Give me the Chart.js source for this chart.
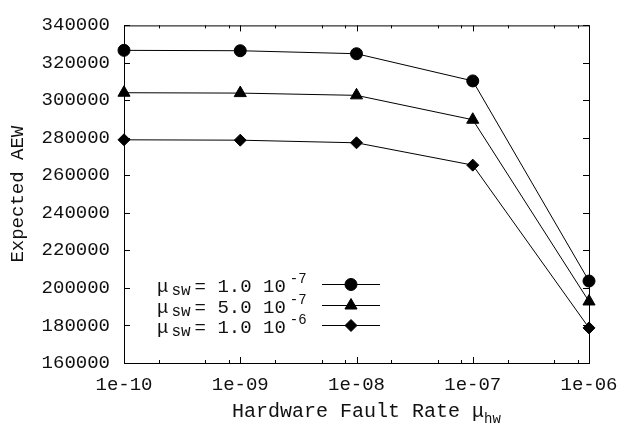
<!DOCTYPE html>
<html>
<head>
<meta charset="utf-8">
<script src="https://cdn.jsdelivr.net/npm/chart.js@4.4.1/dist/chart.umd.min.js"></script>
<style>
  html, body { margin: 0; padding: 0; background: #fff; }
  #wrap { width: 630px; height: 428px; }
</style>
</head>
<body>
<div id="wrap"><canvas id="aewChart" width="630" height="428"></canvas></div>
<script>
// hardware fault rates (x, log scale)
const faultRates = [1e-10, 1e-9, 1e-8, 1e-7, 1e-6];
const xTickLabels = ["1e-10", "1e-09", "1e-08", "1e-07", "1e-06"];
const xMinorSteps = [2, 5, 8];

// expected AEW for the three software fault rates
const aewSw1e7 = [326700, 326500, 324900, 310400, 203700];
const aewSw5e7 = [304100, 303900, 302700, 289700, 192800];
const aewSw1e6 = [279000, 278800, 277400, 265500, 178700];

const legendExp = ["-7", "-7", "-6"];
const legendMant = ["1.0", "5.0", "1.0"];

const FONT = "'Liberation Mono', 'DejaVu Sans Mono', monospace";
const INK = "#111";

function toPoints(ys) {
  return ys.map((y, i) => ({ x: faultRates[i], y: y }));
}

// draws text pieces one after another (for sub/superscripts)
function drawRich(ctx, x, y, parts) {
  parts.forEach((p) => {
    ctx.font = p.size + "px " + FONT;
    ctx.fillText(p.text, x, y + (p.dy || 0));
    x += ctx.measureText(p.text).width + (p.gap || 0);
  });
  return x;
}

function richWidth(ctx, parts) {
  let w = 0;
  parts.forEach((p) => {
    ctx.font = p.size + "px " + FONT;
    w += ctx.measureText(p.text).width + (p.gap || 0);
  });
  return w;
}

const frameAndTicks = {
  id: "frameAndTicks",
  beforeDatasetsDraw(chart) {
    const { ctx, chartArea: a, scales } = chart;
    ctx.save();
    ctx.strokeStyle = "#000";
    ctx.lineWidth = 1;
    ctx.strokeRect(a.left + 0.5, a.top + 0.5, a.right - a.left, a.bottom - a.top);

    ctx.beginPath();
    // x ticks, bottom and top, inward
    faultRates.forEach((v, i) => {
      const px = Math.round(scales.x.getPixelForValue(v)) + 0.5;
      ctx.moveTo(px, a.bottom); ctx.lineTo(px, a.bottom - 6);
      ctx.moveTo(px, a.top); ctx.lineTo(px, a.top + 6);
      if (i < faultRates.length - 1) {
        xMinorSteps.forEach((m) => {
          const mx = Math.round(scales.x.getPixelForValue(v * m)) + 0.5;
          ctx.moveTo(mx, a.bottom); ctx.lineTo(mx, a.bottom - 3);
          ctx.moveTo(mx, a.top); ctx.lineTo(mx, a.top + 3);
        });
      }
    });
    // y ticks, left and right, inward
    scales.y.ticks.forEach((t) => {
      const py = Math.round(scales.y.getPixelForValue(t.value)) + 0.5;
      ctx.moveTo(a.left, py); ctx.lineTo(a.left + 6, py);
      ctx.moveTo(a.right, py); ctx.lineTo(a.right - 6, py);
    });
    ctx.stroke();
    ctx.restore();
  },
  afterDraw(chart) {
    const { ctx, chartArea: a } = chart;
    ctx.save();
    ctx.fillStyle = INK;
    ctx.textBaseline = "alphabetic";
    ctx.textAlign = "left";

    // x axis title with subscript
    const titleParts = [
      { text: "Hardware Fault Rate ", size: 20 },
      { text: "\u03bc", size: 20 },
      { text: "hw", size: 14, dy: 6 }
    ];
    const tw = richWidth(ctx, titleParts);
    drawRich(ctx, (a.left + a.right) / 2 + 10 - tw / 2, 417, titleParts);

    // legend
    chart.data.datasets.forEach((ds, i) => {
      const rowY = Math.round(284 + i * 20.5) + 0.5;
      ctx.fillStyle = INK;
      drawRich(ctx, 157, rowY + 7, [
        { text: "\u03bc", size: 19, gap: 3 },
        { text: "sw", size: 16, dy: 3, gap: 4 },
        { text: "= " + legendMant[i] + " 10", size: 19, gap: 4 },
        { text: legendExp[i], size: 14, dy: -9 }
      ]);
      ctx.strokeStyle = "#000";
      ctx.lineWidth = 1;
      ctx.beginPath();
      ctx.moveTo(322, rowY);
      ctx.lineTo(380, rowY);
      ctx.stroke();
      ctx.fillStyle = "#000";
      Chart.helpers.drawPoint(ctx, {
        pointStyle: ds.pointStyle,
        rotation: 0,
        radius: ds.pointRadius,
        borderWidth: 1
      }, 351, rowY);
    });
    ctx.restore();
  }
};

const commonDs = {
  borderColor: "#000",
  backgroundColor: "#000",
  pointBackgroundColor: "#000",
  pointBorderColor: "#000",
  borderWidth: 1,
  pointBorderWidth: 1,
  showLine: true,
  tension: 0,
  clip: false
};

new Chart(document.getElementById("aewChart").getContext("2d"), {
  type: "scatter",
  data: {
    datasets: [
      Object.assign({ label: "1.0e-7", data: toPoints(aewSw1e7), pointStyle: "circle", pointRadius: 6 }, commonDs),
      Object.assign({ label: "5.0e-7", data: toPoints(aewSw5e7), pointStyle: "triangle", pointRadius: 7 }, commonDs),
      Object.assign({ label: "1.0e-6", data: toPoints(aewSw1e6), pointStyle: "rectRot", pointRadius: 6 }, commonDs)
    ]
  },
  options: {
    responsive: false,
    animation: false,
    devicePixelRatio: 1,
    layout: { padding: { top: 10, right: 41, left: 0, bottom: 0 } },
    plugins: {
      legend: { display: false },
      tooltip: { enabled: false }
    },
    scales: {
      x: {
        type: "logarithmic",
        min: 1e-10,
        max: 1e-6,
        afterBuildTicks: (scale) => {
          scale.ticks = faultRates.map((v) => ({ value: v }));
        },
        afterFit: (scale) => { scale.height = 65; },
        grid: { display: false },
        border: { display: false },
        ticks: {
          autoSkip: false,
          maxRotation: 0,
          padding: 3,
          color: INK,
          font: { family: FONT, size: 19 },
          callback: (value, index) => xTickLabels[index]
        }
      },
      y: {
        min: 160000,
        max: 340000,
        afterFit: (scale) => { scale.width = 124; },
        grid: { display: false, drawTicks: false },
        border: { display: false },
        ticks: {
          stepSize: 20000,
          padding: 14,
          color: INK,
          font: { family: FONT, size: 19 },
          callback: (v) => String(v)
        },
        title: {
          display: true,
          text: "Expected AEW",
          color: INK,
          font: { family: FONT, size: 19 },
          padding: { top: 7, bottom: 0 }
        }
      }
    }
  },
  plugins: [frameAndTicks]
});
</script>
</body>
</html>
